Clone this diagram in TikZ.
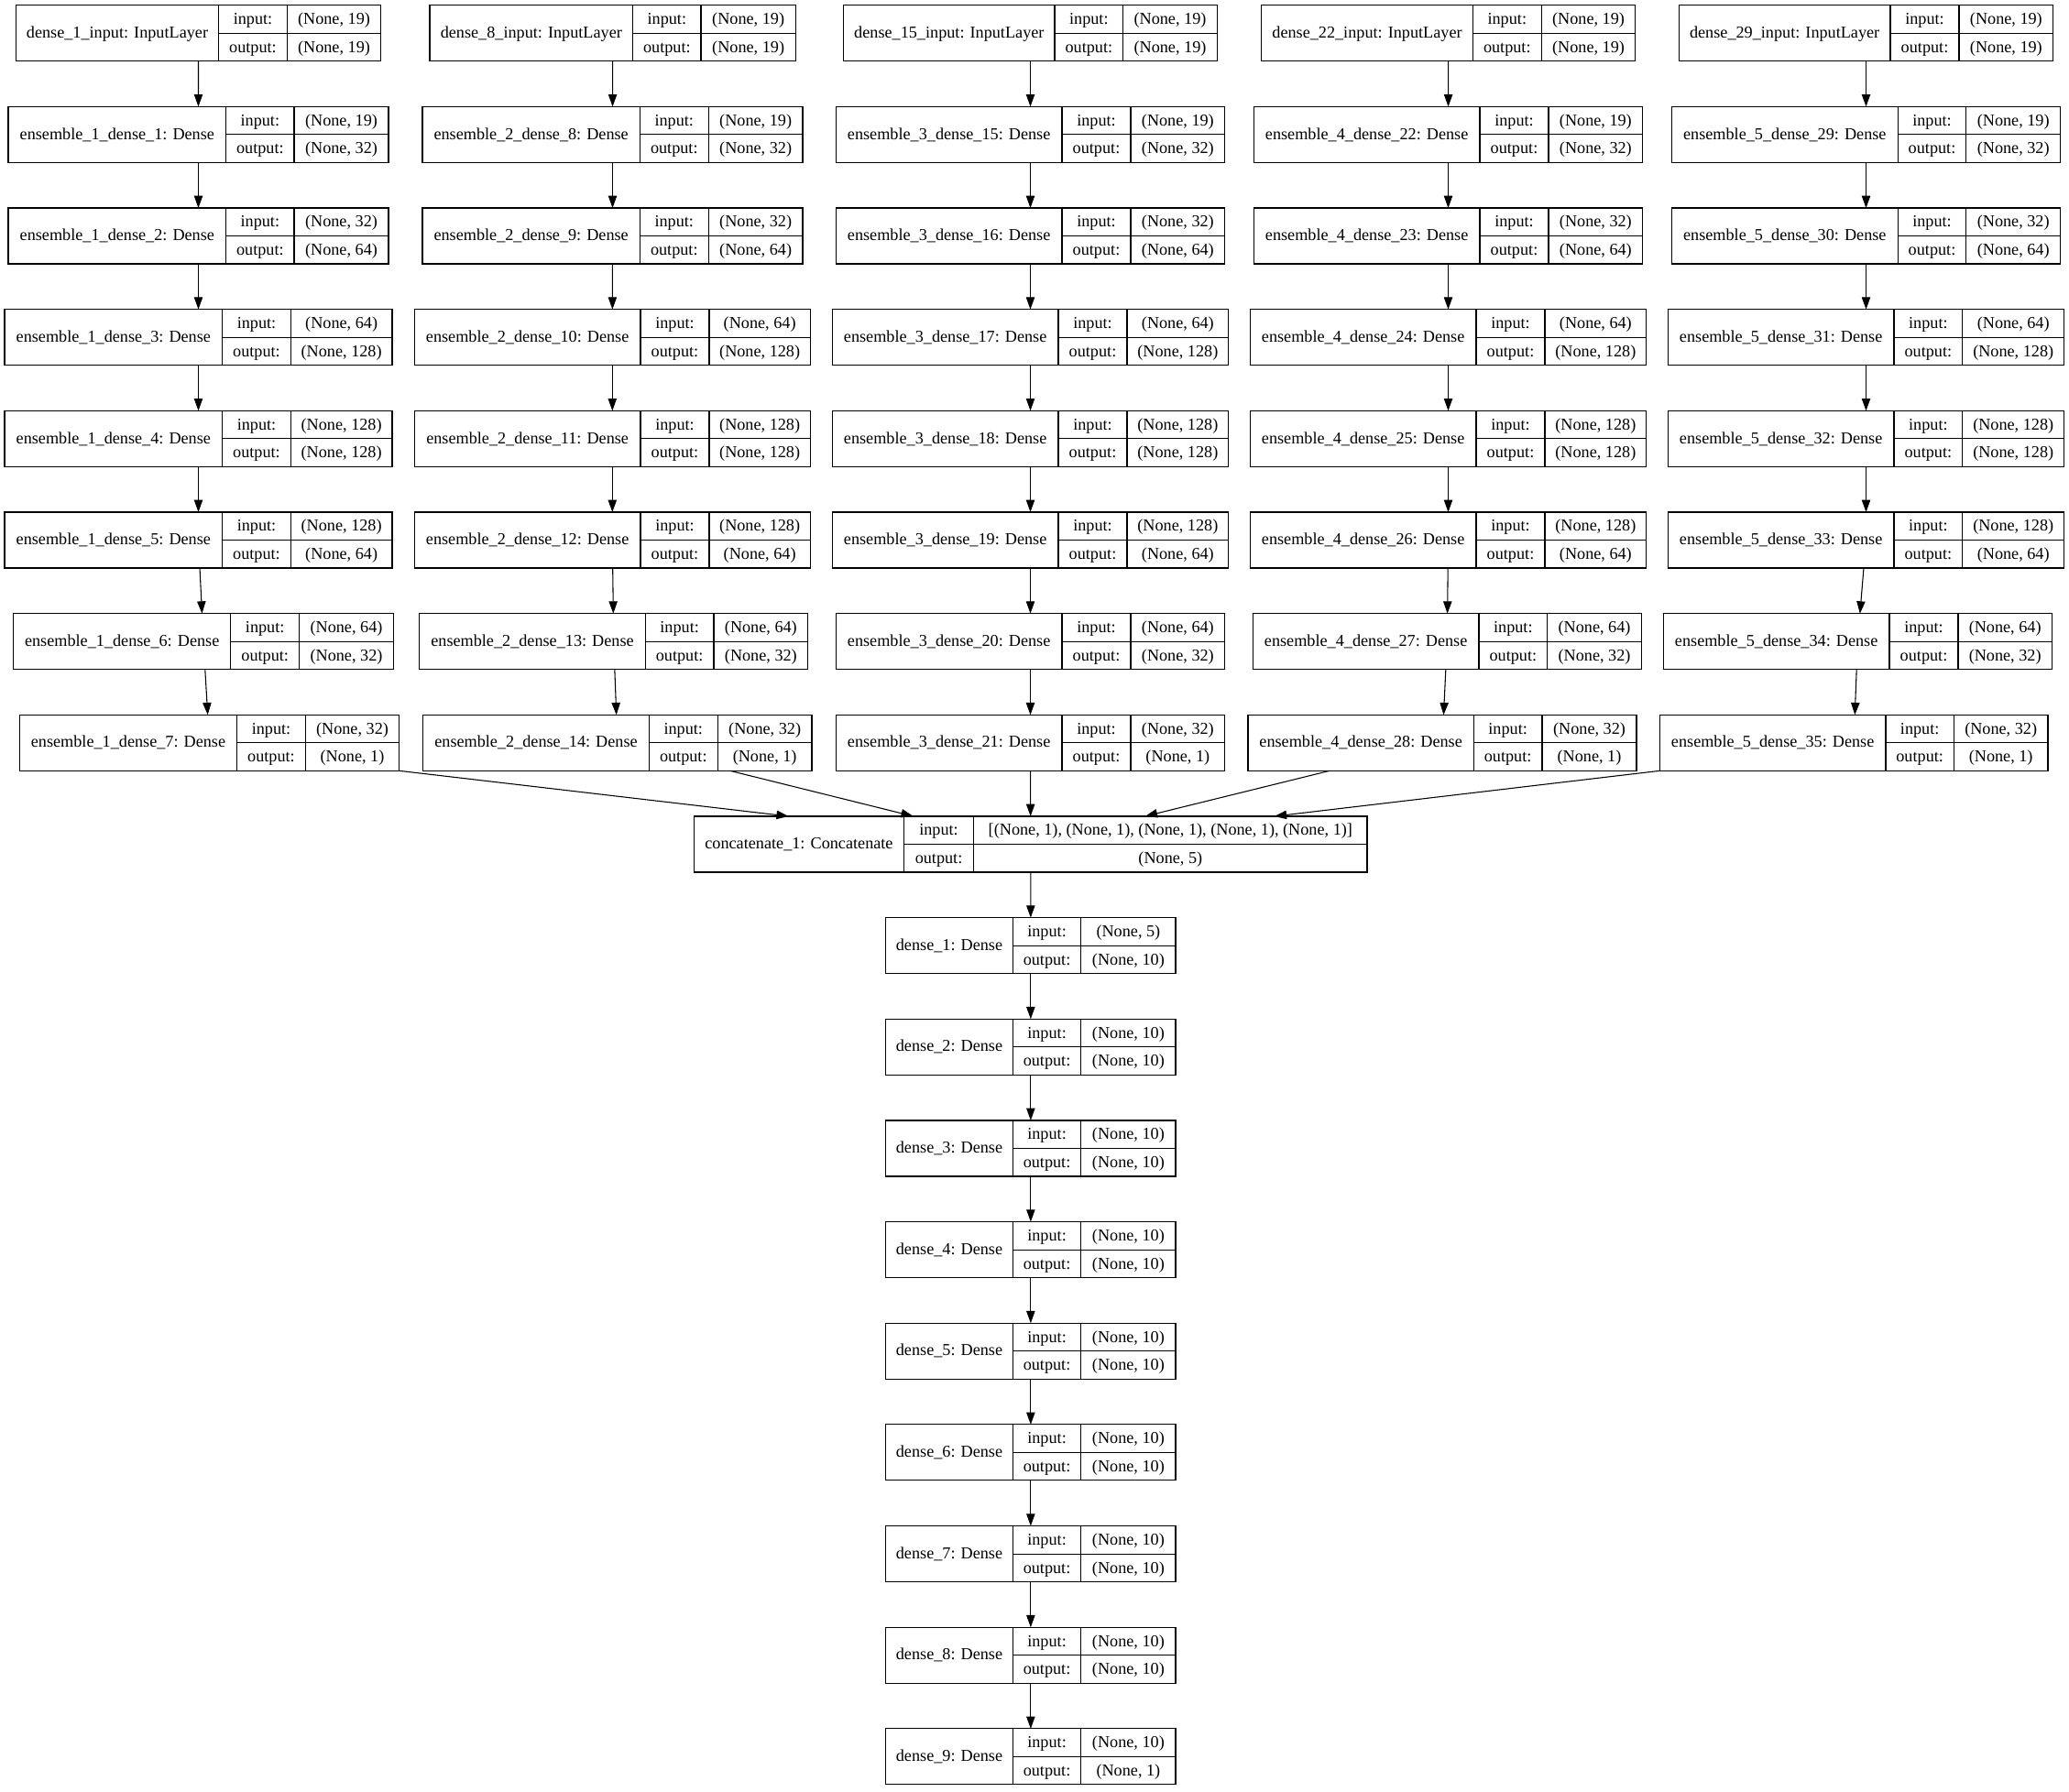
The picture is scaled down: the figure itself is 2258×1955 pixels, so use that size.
\documentclass[tikz,border=0pt]{standalone}
\usepackage{fontspec}
\setmainfont{Liberation Serif}
\usetikzlibrary{arrows.meta,calc}

\tikzset{
  layer/.style={draw, line width=0.8pt, rectangle, inner sep=0pt, outer sep=0pt,
    minimum height=45.75pt, anchor=north west},
  cell/.style={line width=0.8pt},
  celltext/.style={inner sep=0pt, text height=9.5pt, text depth=1pt,
    font=\fontsize{13.65}{16}\selectfont},
  flow/.style={line width=0.8pt, -{Triangle[length=10pt,width=7pt]}},
}

% #1 name, #2 left, #3 first divider, #4 second divider, #5 right,
% #6 rank, #7 layer label, #8 input shape, #9 output shape
\newcommand\kerasnode[9]{%
  \pgfmathsetmacro\ktop{5.7+110.66*#6}%
  \pgfmathsetmacro\kbot{\ktop+61}%
  \pgfmathsetmacro\kmid{\ktop+30.5}%
  \pgfmathsetmacro\kw{(#5-#2)*0.75}%
  \node[layer, minimum width=\kw pt] (#1) at (#2,\ktop) {};
  \draw[cell] (#3,\ktop) -- (#3,\kbot) (#4,\ktop) -- (#4,\kbot) (#3,\kmid) -- (#5,\kmid);
  \node[celltext] at ({(#2+#3)/2},{\kmid-0.5}) {#7};
  \node[celltext] at ({(#3+#4)/2},{\ktop+15.25}) {input:};
  \node[celltext] at ({(#3+#4)/2},{\ktop+45.75}) {output:};
  \node[celltext] at ({(#4+#5)/2},{\ktop+15.25}) {#8};
  \node[celltext] at ({(#4+#5)/2},{\ktop+45.75}) {#9};
}

\begin{document}
\begin{tikzpicture}[x=0.75pt, y=-0.75pt]
\useasboundingbox[fill=white] (0,0) rectangle (2258,1955);

% ensemble 1
\kerasnode{a0}{17.3}{238.7}{313.3}{415.7}{0}{dense\_1\_input: InputLayer}{(None, 19)}{(None, 19)}
\kerasnode{a1}{9}{246.7}{321}{424}{1}{ensemble\_1\_dense\_1: Dense}{(None, 19)}{(None, 32)}
\kerasnode{a2}{9}{246.7}{321}{424}{2}{ensemble\_1\_dense\_2: Dense}{(None, 32)}{(None, 64)}
\kerasnode{a3}{5}{242.7}{317.3}{428}{3}{ensemble\_1\_dense\_3: Dense}{(None, 64)}{(None, 128)}
\kerasnode{a4}{5}{242.7}{317.3}{428}{4}{ensemble\_1\_dense\_4: Dense}{(None, 128)}{(None, 128)}
\kerasnode{a5}{5}{242.7}{317.3}{428}{5}{ensemble\_1\_dense\_5: Dense}{(None, 128)}{(None, 64)}
\kerasnode{a6}{14.7}{251.7}{326.7}{429.3}{6}{ensemble\_1\_dense\_6: Dense}{(None, 64)}{(None, 32)}
\kerasnode{a7}{21.3}{258.7}{333.3}{435.7}{7}{ensemble\_1\_dense\_7: Dense}{(None, 32)}{(None, 1)}

% ensemble 2
\kerasnode{b0}{469}{690.7}{765}{868.3}{0}{dense\_8\_input: InputLayer}{(None, 19)}{(None, 19)}
\kerasnode{b1}{461}{698.3}{773.3}{876}{1}{ensemble\_2\_dense\_8: Dense}{(None, 19)}{(None, 32)}
\kerasnode{b2}{461}{698.3}{773.3}{876}{2}{ensemble\_2\_dense\_9: Dense}{(None, 32)}{(None, 64)}
\kerasnode{b3}{452.3}{699}{774}{884.3}{3}{ensemble\_2\_dense\_10: Dense}{(None, 64)}{(None, 128)}
\kerasnode{b4}{452.3}{699}{774}{884.3}{4}{ensemble\_2\_dense\_11: Dense}{(None, 128)}{(None, 128)}
\kerasnode{b5}{452.3}{699}{774}{884.3}{5}{ensemble\_2\_dense\_12: Dense}{(None, 128)}{(None, 64)}
\kerasnode{b6}{457.7}{704.3}{779}{881.7}{6}{ensemble\_2\_dense\_13: Dense}{(None, 64)}{(None, 32)}
\kerasnode{b7}{461.7}{708.3}{783.3}{886}{7}{ensemble\_2\_dense\_14: Dense}{(None, 32)}{(None, 1)}

% ensemble 3
\kerasnode{c0}{920.7}{1151}{1225.7}{1328.3}{0}{dense\_15\_input: InputLayer}{(None, 19)}{(None, 19)}
\kerasnode{c1}{912.3}{1159}{1234}{1336.7}{1}{ensemble\_3\_dense\_15: Dense}{(None, 19)}{(None, 32)}
\kerasnode{c2}{912.3}{1159}{1234}{1336.7}{2}{ensemble\_3\_dense\_16: Dense}{(None, 32)}{(None, 64)}
\kerasnode{c3}{908.3}{1155}{1230}{1340.7}{3}{ensemble\_3\_dense\_17: Dense}{(None, 64)}{(None, 128)}
\kerasnode{c4}{908.3}{1155}{1230}{1340.7}{4}{ensemble\_3\_dense\_18: Dense}{(None, 128)}{(None, 128)}
\kerasnode{c5}{908.3}{1155}{1230}{1340.7}{5}{ensemble\_3\_dense\_19: Dense}{(None, 128)}{(None, 64)}
\kerasnode{c6}{912.3}{1159}{1234}{1336.7}{6}{ensemble\_3\_dense\_20: Dense}{(None, 64)}{(None, 32)}
\kerasnode{c7}{912.3}{1159}{1234}{1336.7}{7}{ensemble\_3\_dense\_21: Dense}{(None, 32)}{(None, 1)}

% ensemble 4
\kerasnode{d0}{1376.7}{1607.3}{1682.3}{1784.7}{0}{dense\_22\_input: InputLayer}{(None, 19)}{(None, 19)}
\kerasnode{d1}{1368.3}{1615}{1690}{1792.7}{1}{ensemble\_4\_dense\_22: Dense}{(None, 19)}{(None, 32)}
\kerasnode{d2}{1368.3}{1615}{1690}{1792.7}{2}{ensemble\_4\_dense\_23: Dense}{(None, 32)}{(None, 64)}
\kerasnode{d3}{1364.3}{1611}{1686}{1796.7}{3}{ensemble\_4\_dense\_24: Dense}{(None, 64)}{(None, 128)}
\kerasnode{d4}{1364.3}{1611}{1686}{1796.7}{4}{ensemble\_4\_dense\_25: Dense}{(None, 128)}{(None, 128)}
\kerasnode{d5}{1364.3}{1611}{1686}{1796.7}{5}{ensemble\_4\_dense\_26: Dense}{(None, 128)}{(None, 64)}
\kerasnode{d6}{1367.3}{1614}{1688.7}{1791.3}{6}{ensemble\_4\_dense\_27: Dense}{(None, 64)}{(None, 32)}
\kerasnode{d7}{1362}{1608.3}{1683}{1786}{7}{ensemble\_4\_dense\_28: Dense}{(None, 32)}{(None, 1)}

% ensemble 5
\kerasnode{e0}{1832.3}{2063}{2138}{2240.7}{0}{dense\_29\_input: InputLayer}{(None, 19)}{(None, 19)}
\kerasnode{e1}{1824.3}{2071.3}{2145.7}{2248.7}{1}{ensemble\_5\_dense\_29: Dense}{(None, 19)}{(None, 32)}
\kerasnode{e2}{1824.3}{2071.3}{2145.7}{2248.7}{2}{ensemble\_5\_dense\_30: Dense}{(None, 32)}{(None, 64)}
\kerasnode{e3}{1820.3}{2067}{2141.7}{2252.7}{3}{ensemble\_5\_dense\_31: Dense}{(None, 64)}{(None, 128)}
\kerasnode{e4}{1820.3}{2067}{2141.7}{2252.7}{4}{ensemble\_5\_dense\_32: Dense}{(None, 128)}{(None, 128)}
\kerasnode{e5}{1820.3}{2067}{2141.7}{2252.7}{5}{ensemble\_5\_dense\_33: Dense}{(None, 128)}{(None, 64)}
\kerasnode{e6}{1815.3}{2062}{2137}{2239.3}{6}{ensemble\_5\_dense\_34: Dense}{(None, 64)}{(None, 32)}
\kerasnode{e7}{1811.3}{2058}{2132.3}{2235}{7}{ensemble\_5\_dense\_35: Dense}{(None, 32)}{(None, 1)}

% merge and head
\kerasnode{cat}{757.5}{986.4}{1062.7}{1492}{8}{concatenate\_1: Concatenate}{[(None, 1), (None, 1), (None, 1), (None, 1), (None, 1)]}{(None, 5)}
\kerasnode{f1}{966.7}{1105.3}{1179.8}{1283}{9}{dense\_1: Dense}{(None, 5)}{(None, 10)}
\kerasnode{f2}{966.7}{1105.3}{1179.8}{1283}{10}{dense\_2: Dense}{(None, 10)}{(None, 10)}
\kerasnode{f3}{966.7}{1105.3}{1179.8}{1283}{11}{dense\_3: Dense}{(None, 10)}{(None, 10)}
\kerasnode{f4}{966.7}{1105.3}{1179.8}{1283}{12}{dense\_4: Dense}{(None, 10)}{(None, 10)}
\kerasnode{f5}{966.7}{1105.3}{1179.8}{1283}{13}{dense\_5: Dense}{(None, 10)}{(None, 10)}
\kerasnode{f6}{966.7}{1105.3}{1179.8}{1283}{14}{dense\_6: Dense}{(None, 10)}{(None, 10)}
\kerasnode{f7}{966.7}{1105.3}{1179.8}{1283}{15}{dense\_7: Dense}{(None, 10)}{(None, 10)}
\kerasnode{f8}{966.7}{1105.3}{1179.8}{1283}{16}{dense\_8: Dense}{(None, 10)}{(None, 10)}
\kerasnode{f9}{966.7}{1105.3}{1179.8}{1283}{17}{dense\_9: Dense}{(None, 10)}{(None, 1)}

% connections inside each ensemble
\foreach \c in {a,b,c,d,e}{
  \foreach \r [evaluate=\r as \s using int(\r+1)] in {0,...,6}{
    \draw[flow] (\c\r) -- (\c\s);
  }
}

% ensembles into the concatenation
\draw[flow] (a7.south east) -- ($(cat.north)+(-264,0)$);
\draw[flow] ($(b7.south)+(123,0)$) -- ($(cat.north)+(-128,0)$);
\draw[flow] (c7) -- (cat);
\draw[flow] ($(d7.south)+(-123,0)$) -- ($(cat.north)+(125,0)$);
\draw[flow] (e7.south west) -- ($(cat.north)+(266,0)$);

% dense head
\draw[flow] (cat) -- (f1);
\foreach \r [evaluate=\r as \s using int(\r+1)] in {1,...,8}{
  \draw[flow] (f\r) -- (f\s);
}
\end{tikzpicture}
\end{document}
